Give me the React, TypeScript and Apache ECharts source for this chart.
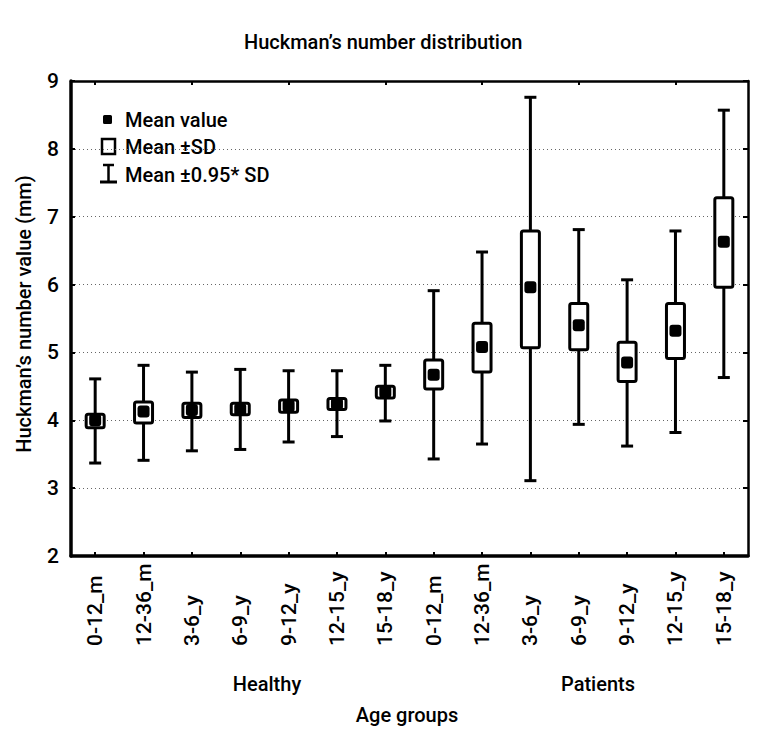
import React, { useEffect, useRef } from "react";
import * as echarts from "echarts";

const categories = [
  "0-12_m", "12-36_m", "3-6_y", "6-9_y", "9-12_y", "12-15_y", "15-18_y",
  "0-12_m", "12-36_m", "3-6_y", "6-9_y", "9-12_y", "12-15_y", "15-18_y",
];
const meanValues = [4.0, 4.13, 4.15, 4.16, 4.21, 4.24, 4.42, 4.67, 5.08, 5.96, 5.4, 4.85, 5.32, 6.63];
const sdLow = [3.89, 3.96, 4.04, 4.08, 4.12, 4.16, 4.33, 4.46, 4.71, 5.07, 5.04, 4.57, 4.91, 5.96];
const sdHigh = [4.09, 4.27, 4.25, 4.25, 4.3, 4.32, 4.5, 4.89, 5.43, 6.79, 5.72, 5.15, 5.72, 7.28];
const whiskerLow = [3.37, 3.41, 3.55, 3.57, 3.68, 3.76, 3.99, 3.43, 3.65, 3.11, 3.94, 3.62, 3.82, 4.63];
const whiskerHigh = [4.61, 4.81, 4.71, 4.75, 4.73, 4.73, 4.81, 5.91, 6.48, 8.76, 6.81, 6.07, 6.79, 8.57];
const yTicks = { min: 2, max: 9, interval: 1 };

const FONT = "Roboto, 'Open Sans', sans-serif";
const WEIGHT = 500;

export default function App() {
  const ref = useRef<HTMLDivElement>(null);
  useEffect(() => {
    if (!ref.current) return;
    const chart = echarts.init(ref.current, null, { renderer: "svg" });
    const data = categories.map((_, i) => [i, whiskerLow[i], sdLow[i], meanValues[i], sdHigh[i], whiskerHigh[i]]);
    const renderItem = (params: any, api: any) => {
      const i = api.value(0);
      const pWL = api.coord([i, api.value(1)]);
      const pBL = api.coord([i, api.value(2)]);
      const pM = api.coord([i, api.value(3)]);
      const pBH = api.coord([i, api.value(4)]);
      const pWH = api.coord([i, api.value(5)]);
      const cx = pM[0];
      const bw = 18, cw = 12, ms = 12;
      const ls = { stroke: "#000", lineWidth: 3 };
      return {
        type: "group",
        children: [
          { type: "line", shape: { x1: cx, y1: pWH[1], x2: cx, y2: pBH[1] }, style: ls },
          { type: "line", shape: { x1: cx, y1: pBL[1], x2: cx, y2: pWL[1] }, style: ls },
          { type: "line", shape: { x1: cx - cw / 2, y1: pWH[1], x2: cx + cw / 2, y2: pWH[1] }, style: ls },
          { type: "line", shape: { x1: cx - cw / 2, y1: pWL[1], x2: cx + cw / 2, y2: pWL[1] }, style: ls },
          {
            type: "rect",
            shape: { x: cx - bw / 2, y: pBH[1], width: bw, height: pBL[1] - pBH[1], r: 2 },
            style: { fill: "#fff", stroke: "#000", lineWidth: 3 },
          },
          {
            type: "rect",
            shape: { x: cx - ms / 2, y: pM[1] - ms / 2, width: ms, height: ms, r: 3 },
            style: { fill: "#000" },
          },
        ],
      };
    };
    const txt = (text: string, x: number, y: number, extra: any = {}) => ({
      type: "text",
      x,
      y,
      style: {
        text,
        fill: "#000",
        fontSize: 20,
        fontWeight: WEIGHT,
        fontFamily: FONT,
        textVerticalAlign: "middle",
        ...extra.style,
      },
      ...extra.el,
    });
    chart.setOption({
      animation: false,
      backgroundColor: "#fff",
      title: {
        text: "Huckman\u2019s number distribution",
        left: 239,
        top: 27,
        textStyle: { fontSize: 20, fontWeight: WEIGHT, fontFamily: FONT, color: "#000" },
      },
      grid: { left: 71, right: 23, top: 81, bottom: 175, containLabel: false },
      xAxis: [
        {
          type: "category",
          data: categories,
          position: "bottom",
          axisLine: { lineStyle: { color: "#000", width: 3.5 } },
          axisTick: { show: true, inside: true, length: 4, alignWithLabel: true, lineStyle: { color: "#000", width: 2 } },
          axisLabel: {
            rotate: 90,
            align: "left",
            verticalAlign: "middle",
            margin: 90,
            fontSize: 21,
            fontWeight: WEIGHT,
            fontFamily: FONT,
            color: "#000",
            interval: 0,
          },
          splitLine: { show: false },
        },
        {
          type: "category",
          data: categories,
          position: "top",
          axisLine: { lineStyle: { color: "#000", width: 2.5 } },
          axisTick: { show: true, inside: true, length: 4, alignWithLabel: true, lineStyle: { color: "#000", width: 2 } },
          axisLabel: { show: false },
          splitLine: { show: false },
        },
      ],
      yAxis: [
        {
          type: "value",
          min: yTicks.min,
          max: yTicks.max,
          interval: yTicks.interval,
          position: "left",
          axisLine: { show: true, lineStyle: { color: "#000", width: 3.5 } },
          axisTick: { show: true, inside: true, length: 4, lineStyle: { color: "#000", width: 2 } },
          axisLabel: { fontSize: 21, fontWeight: WEIGHT, fontFamily: FONT, color: "#000", margin: 12 },
          splitLine: { show: true, lineStyle: { color: "#666", width: 1, type: [1, 3] } },
        },
        {
          type: "value",
          min: yTicks.min,
          max: yTicks.max,
          interval: yTicks.interval,
          position: "right",
          axisLine: { show: true, lineStyle: { color: "#000", width: 2.5 } },
          axisTick: { show: true, inside: true, length: 5, lineStyle: { color: "#000", width: 2 } },
          axisLabel: { show: false },
          splitLine: { show: false },
        },
      ],
      series: [
        {
          type: "custom",
          renderItem,
          data,
          encode: { x: 0, y: [1, 2, 3, 4, 5] },
          xAxisIndex: 0,
          yAxisIndex: 0,
          z: 10,
        },
      ],
      graphic: [
        { type: "rect", shape: { x: 103, y: 115, width: 9, height: 9, r: 1.5 }, style: { fill: "#000" } },
        { type: "rect", shape: { x: 102, y: 139, width: 13, height: 15 }, style: { fill: "#fff", stroke: "#000", lineWidth: 2.5 } },
        { type: "line", shape: { x1: 108.5, y1: 165, x2: 108.5, y2: 182 }, style: { stroke: "#000", lineWidth: 2.5 } },
        { type: "line", shape: { x1: 103, y1: 165, x2: 114, y2: 165 }, style: { stroke: "#000", lineWidth: 2.5 } },
        { type: "line", shape: { x1: 100, y1: 182, x2: 117, y2: 182 }, style: { stroke: "#000", lineWidth: 3 } },
        txt("Mean value", 125, 120),
        txt("Mean \u00b1SD", 125, 147),
        txt("Mean \u00b10.95* SD", 125, 175),
        txt("Healthy", 267, 684, { style: { textAlign: "center" } }),
        txt("Patients", 598, 684, { style: { textAlign: "center" } }),
        txt("Age groups", 407, 715, { style: { textAlign: "center" } }),
        txt("Huckman\u2019s number value (mm)", 24, 314, {
          style: { textAlign: "center" },
          el: { rotation: Math.PI / 2 },
        }),
      ],
    });
    return () => chart.dispose();
  }, []);
  return <div ref={ref} style={{ width: 771, height: 731, position: "absolute", left: 0, top: 0 }} />;
}
